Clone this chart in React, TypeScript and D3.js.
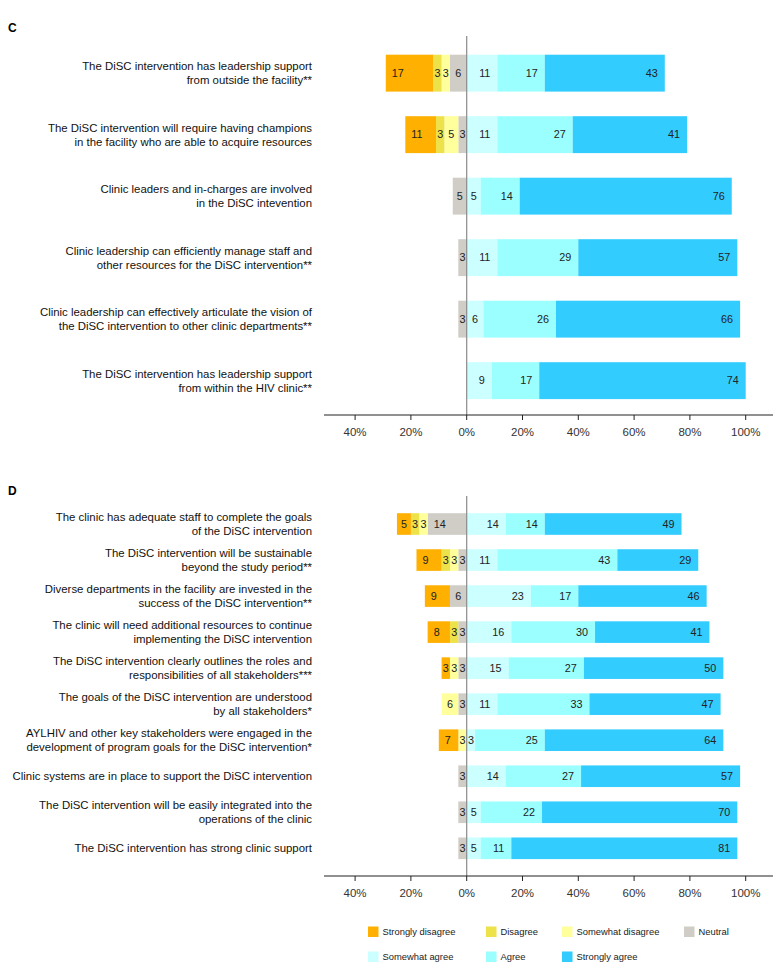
import React from "react";
import * as d3 from "d3";

// response categories, from the negative end to the positive end
const categories = [
  "Strongly disagree",
  "Disagree",
  "Somewhat disagree",
  "Neutral",
  "Somewhat agree",
  "Agree",
  "Strongly agree",
];
const colors = ["#FFB000", "#EEE24A", "#FFFF9C", "#CFCDC6", "#CCFFFF", "#9CFFFF", "#33CCFF"];

// panel C: leadership items
const itemsC = [
  ["The DiSC intervention has leadership support", "from outside the facility**"],
  ["The DiSC intervention will require having champions", "in the facility who are able to acquire resources"],
  ["Clinic leaders and in-charges are involved", "in the DiSC intevention"],
  ["Clinic leadership can efficiently manage staff and", "other resources for the DiSC intervention**"],
  ["Clinic leadership can effectively articulate the vision of", "the DiSC intervention to other clinic departments**"],
  ["The DiSC intervention has leadership support", "from within the HIV clinic**"],
];
const valuesC = [
  [17, 3, 3, 6, 11, 17, 43],
  [11, 3, 5, 3, 11, 27, 41],
  [0, 0, 0, 5, 5, 14, 76],
  [0, 0, 0, 3, 11, 29, 57],
  [0, 0, 0, 3, 6, 26, 66],
  [0, 0, 0, 0, 9, 17, 74],
];

// panel D: goals and sustainability items
const itemsD = [
  ["The clinic has adequate staff to complete the goals", "of the DiSC intervention"],
  ["The DiSC intervention will be sustainable", "beyond the study period**"],
  ["Diverse departments in the facility are invested in the", "success of the DiSC intervention**"],
  ["The clinic will need additional resources to continue", "implementing the DiSC intervention"],
  ["The DiSC intervention clearly outlines the roles and", "responsibilities of all stakeholders***"],
  ["The goals of the DiSC intervention are understood", "by all stakeholders*"],
  ["AYLHIV and other key stakeholders were engaged in the", "development of program goals for the DiSC intervention*"],
  ["Clinic systems are in place to support the DiSC intervention"],
  ["The DiSC intervention will be easily integrated into the", "operations of the clinic"],
  ["The DiSC intervention has strong clinic support"],
];
const valuesD = [
  [5, 3, 3, 14, 14, 14, 49],
  [9, 3, 3, 3, 11, 43, 29],
  [9, 0, 0, 6, 23, 17, 46],
  [8, 3, 0, 3, 16, 30, 41],
  [3, 0, 3, 3, 15, 27, 50],
  [0, 0, 6, 3, 11, 33, 47],
  [7, 0, 3, 0, 3, 25, 64],
  [0, 0, 0, 3, 14, 27, 57],
  [0, 0, 0, 3, 5, 22, 70],
  [0, 0, 0, 3, 5, 11, 81],
];

const tickValues = [-40, -20, 0, 20, 40, 60, 80, 100];

const FONT = "'Liberation Sans', Arial, sans-serif";
const W = 778;
const H = 965;

const x = d3.scaleLinear().domain([-50, 110]).range([327.2, 773.6]);

type Seg = { cat: number; v: number; x0: number; x1: number };

function segments(row: number[]): Seg[] {
  const out: Seg[] = [];
  // negatives stack outward from zero: neutral, somewhat, disagree, strongly
  let acc = 0;
  for (let c = 3; c >= 0; c--) {
    if (!row[c]) continue;
    out.push({ cat: c, v: row[c], x0: -(acc + row[c]), x1: -acc });
    acc += row[c];
  }
  acc = 0;
  for (let c = 4; c < 7; c++) {
    if (!row[c]) continue;
    out.push({ cat: c, v: row[c], x0: acc, x1: acc + row[c] });
    acc += row[c];
  }
  return out;
}

function Panel({
  letter,
  letterY,
  items,
  values,
  top,
  bottom,
  axisY,
  lineTop,
}: {
  letter: string;
  letterY: number;
  items: string[][];
  values: number[][];
  top: number;
  bottom: number;
  axisY: number;
  lineTop: number;
}) {
  const y = d3
    .scaleBand<number>()
    .domain(d3.range(items.length))
    .range([top, bottom])
    .paddingInner(0.4)
    .paddingOuter(0.2);
  const bw = y.bandwidth();
  const x0 = x(0);

  return (
    <g>
      <text x={8} y={letterY} fontSize={12} fontWeight="bold" fontFamily={FONT} fill="#000">
        {letter}
      </text>
      {items.map((lines, i) => {
        const cy = (y(i) as number) + bw / 2;
        const lh = 13.8;
        const start = cy - ((lines.length - 1) * lh) / 2;
        return (
          <text
            key={"l" + i}
            textAnchor="end"
            fontSize={11.4}
            fontFamily={FONT}
            fill="#111"
          >
            {lines.map((s, k) => (
              <tspan key={k} x={312} y={start + k * lh} dy="0.35em">
                {s}
              </tspan>
            ))}
          </text>
        );
      })}
      {values.map((row, i) => {
        const by = y(i) as number;
        return (
          <g key={"r" + i}>
            {segments(row).map((s) => {
              const a = x(s.x0);
              const b = x(s.x1);
              const w = b - a;
              const tw = String(s.v).length * 6;
              let tx: number;
              let anchor: string;
              if (s.cat <= 3) {
                if (w >= tw + 12) {
                  tx = a + 6;
                  anchor = "start";
                } else {
                  tx = (a + b) / 2;
                  anchor = "middle";
                }
              } else {
                if (w >= tw + 12) {
                  tx = b - 7;
                  anchor = "end";
                } else {
                  tx = (a + b) / 2;
                  anchor = "middle";
                }
              }
              return (
                <g key={s.cat}>
                  <rect
                    x={a}
                    y={by}
                    width={w}
                    height={bw}
                    fill={colors[s.cat]}
                  />
                  <text
                    x={tx}
                    y={by + bw / 2}
                    dy="0.35em"
                    textAnchor={anchor}
                    fontSize={10.8}
                    fontFamily={FONT}
                    fill="#222"
                  >
                    {s.v}
                  </text>
                </g>
              );
            })}
          </g>
        );
      })}
      <line x1={x0} x2={x0} y1={lineTop} y2={axisY} stroke="#8a8a8a" strokeWidth={1.2} />
      <line x1={324} x2={773} y1={axisY} y2={axisY} stroke="#222" strokeWidth={1.2} />
      {tickValues.map((t) => (
        <g key={t}>
          <line x1={x(t)} x2={x(t)} y1={axisY} y2={axisY + 5} stroke="#222" strokeWidth={1} />
          <text
            x={x(t)}
            y={axisY + 17}
            dy="0.32em"
            textAnchor="middle"
            fontSize={11.5}
            fontFamily={FONT}
            fill="#333"
          >
            {Math.abs(t) + "%"}
          </text>
        </g>
      ))}
    </g>
  );
}

function Legend() {
  const cols = [368, 486, 562, 684];
  const rows = [932, 957];
  return (
    <g>
      {categories.map((c, i) => {
        const lx = cols[i < 4 ? i : i - 4];
        const ly = rows[i < 4 ? 0 : 1];
        return (
          <g key={c}>
            <rect x={lx} y={ly - 5.5} width={10.5} height={10.5} fill={colors[i]} />
            <text x={lx + 14.5} y={ly} dy="0.35em" fontSize={9.4} fontFamily={FONT} fill="#222">
              {c}
            </text>
          </g>
        );
      })}
    </g>
  );
}

export default function App() {
  return (
    <svg
      width={W}
      height={H}
      viewBox={`0 0 ${W} ${H}`}
      style={{ position: "absolute", left: 0, top: 0, background: "#fff" }}
    >
      <rect width={W} height={H} fill="#fff" />
      <Panel
        letter="C"
        letterY={32}
        items={itemsC}
        values={valuesC}
        top={42.4}
        bottom={411.4}
        axisY={415}
        lineTop={36}
      />
      <Panel
        letter="D"
        letterY={495}
        items={itemsD}
        values={valuesD}
        top={506}
        bottom={866.3}
        axisY={876}
        lineTop={496}
      />
      <Legend />
    </svg>
  );
}
